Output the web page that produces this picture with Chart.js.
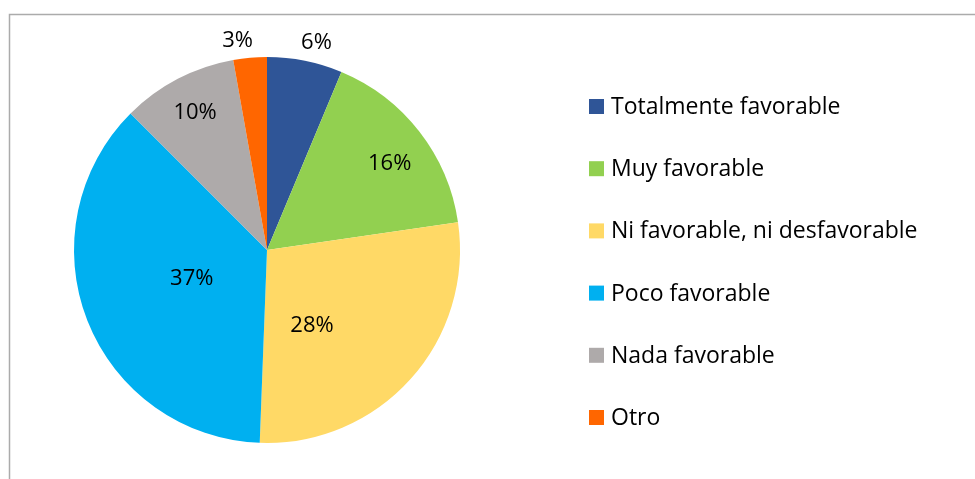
<!DOCTYPE html>
<html>
<head>
<meta charset="utf-8">
<script src="https://cdn.jsdelivr.net/npm/chart.js@4/dist/chart.umd.min.js"></script>
<style>
  html, body { margin: 0; padding: 0; background: #ffffff; }
  #wrap { position: relative; width: 975px; height: 479px; }
  canvas { display: block; }
</style>
</head>
<body>
<div id="wrap"><canvas id="c" width="975" height="479"></canvas></div>
<script>
const categories = ["Totalmente favorable", "Muy favorable", "Ni favorable, ni desfavorable", "Poco favorable", "Nada favorable", "Otro"];
const shares = [6.3, 16.4, 27.9, 36.9, 9.7, 2.8];
const sliceColors = ["#2F5597", "#92D050", "#FFD966", "#00B0F0", "#AEAAAA", "#FF6600"];

const FONT = "'Open Sans', Lato, sans-serif";

// label placement within each slice: [fraction along slice angle, fraction of radius]
const labelPlacement = [[0.59, 1.107], [0.54, 0.78], [0.67, 0.453], [0.51, 0.415], [0.5, 0.806], [0.21, 1.098]];

const framePlugin = {
  id: 'frame',
  beforeDraw(chart) {
    const ctx = chart.ctx;
    ctx.save();
    ctx.strokeStyle = '#ababab';
    ctx.lineWidth = 1.5;
    ctx.beginPath();
    ctx.moveTo(9.5, 490);
    ctx.lineTo(9.5, 14.5);
    ctx.lineTo(990, 14.5);
    ctx.stroke();
    ctx.restore();
  }
};

const labelPlugin = {
  id: 'sliceLabels',
  afterDatasetsDraw(chart) {
    const ctx = chart.ctx;
    const meta = chart.getDatasetMeta(0);
    const total = shares.reduce((a, b) => a + b, 0);
    ctx.save();
    ctx.font = "22px " + FONT;
    ctx.fillStyle = '#000000';
    ctx.textAlign = 'center';
    ctx.textBaseline = 'middle';
    meta.data.forEach((arc, i) => {
      const p = arc.getProps(['x', 'y', 'startAngle', 'endAngle', 'outerRadius'], true);
      const [fa, fr] = labelPlacement[i];
      const ang = p.startAngle + (p.endAngle - p.startAngle) * fa;
      const r = p.outerRadius * fr;
      const txt = Math.round(shares[i] / total * 100) + '%';
      ctx.fillText(txt, p.x + Math.cos(ang) * r, p.y + Math.sin(ang) * r + 1);
    });
    ctx.restore();
  }
};

const legendPlugin = {
  id: 'sideLegend',
  afterDraw(chart) {
    const ctx = chart.ctx;
    ctx.save();
    ctx.font = "23px " + FONT;
    ctx.fillStyle = '#000000';
    ctx.textAlign = 'left';
    ctx.textBaseline = 'middle';
    const x0 = 589, y0 = 106.5, step = 62.2;
    categories.forEach((name, i) => {
      const cy = y0 + i * step;
      ctx.fillStyle = sliceColors[i];
      ctx.fillRect(x0, cy - 7.5, 15, 15);
      ctx.fillStyle = '#000000';
      ctx.fillText(name, x0 + 22, cy + 1);
    });
    ctx.restore();
  }
};

new Chart(document.getElementById('c'), {
  type: 'pie',
  data: {
    labels: categories,
    datasets: [{
      data: shares,
      backgroundColor: sliceColors,
      borderWidth: 0
    }]
  },
  options: {
    responsive: false,
    animation: false,
    layout: { padding: { left: 74, top: 57, bottom: 36, right: 515 } },
    plugins: {
      legend: { display: false },
      tooltip: { enabled: false }
    }
  },
  plugins: [framePlugin, labelPlugin, legendPlugin]
});
</script>
</body>
</html>
